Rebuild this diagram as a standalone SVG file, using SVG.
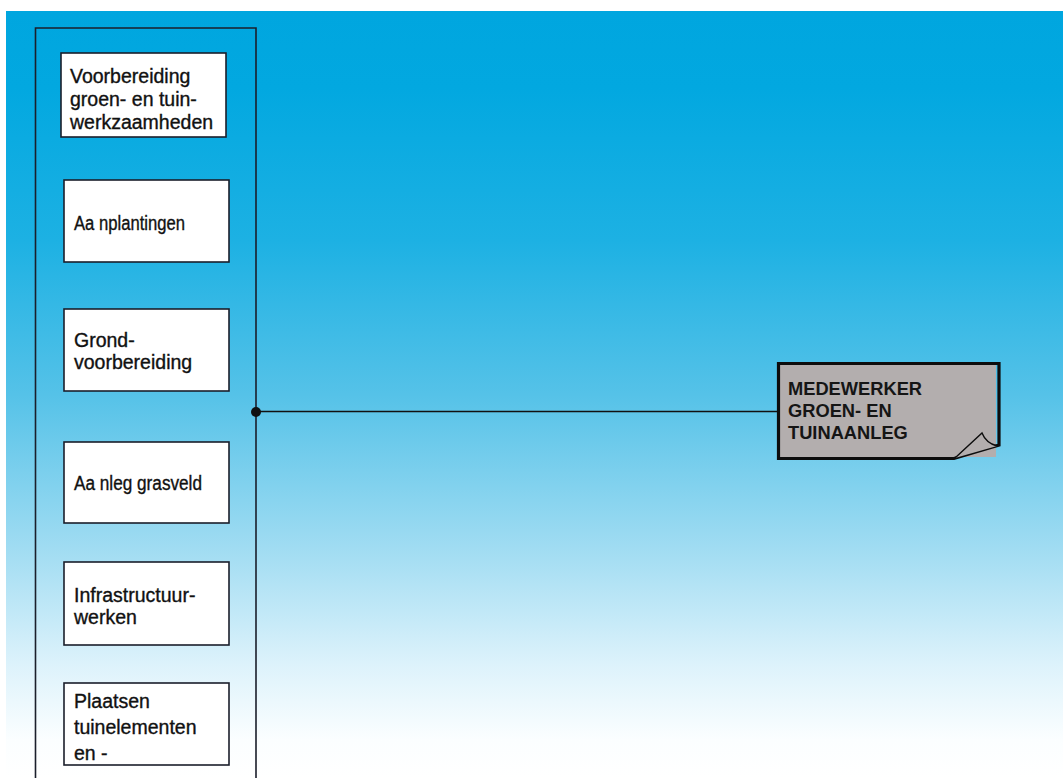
<svg xmlns="http://www.w3.org/2000/svg" width="1063" height="778" viewBox="0 0 1063 778">
<defs>
<linearGradient id="bg" x1="0" y1="11" x2="0" y2="778" gradientUnits="userSpaceOnUse">
<stop offset="0" stop-color="#00a6df"/>
<stop offset="0.1" stop-color="#02a8e0"/>
<stop offset="0.3" stop-color="#1db1e3"/>
<stop offset="0.5" stop-color="#55c2e8"/>
<stop offset="0.7" stop-color="#a0dcf2"/>
<stop offset="0.85" stop-color="#dcf2fb"/>
<stop offset="0.95" stop-color="#fbfeff"/>
<stop offset="1" stop-color="#ffffff"/>
</linearGradient>
<style>
.box{fill:#ffffff;stroke:#1b1f2b;stroke-width:1.6}
.lbl{font-family:"Liberation Sans",Arial,sans-serif;font-size:19.5px;fill:#111111;stroke:#111111;stroke-width:0.35}
.conn{stroke:#111111;stroke-width:1.4;fill:none}
.big{font-family:"Liberation Sans",Arial,sans-serif;font-size:18.3px;font-weight:bold;fill:#151515}
</style>
</defs>
<rect x="0" y="0" width="1063" height="778" fill="#ffffff"/>
<rect x="6" y="11" width="1057" height="767" fill="url(#bg)"/>

<g id="panel">
<path d="M35.5,778 V28 H256 V778" fill="none" stroke="#1b1f2b" stroke-width="1.6"/>
</g>

<g id="connectors">
<line class="conn" x1="256" y1="411.5" x2="778" y2="411.5"/>
<circle cx="256" cy="412" r="5" fill="#111111"/>
</g>

<g id="n1">
<rect class="box" x="61" y="53" width="165" height="84"/>
<text class="lbl" x="70" y="83">Voorbereiding</text>
<text class="lbl" x="70" y="106">groen- en tuin-</text>
<text class="lbl" x="70" y="129">werkzaamheden</text>
</g>
<g id="n2">
<rect class="box" x="64" y="180" width="165" height="82"/>
<text class="lbl" x="74" y="230" textLength="111" lengthAdjust="spacingAndGlyphs">Aa nplantingen</text>
</g>
<g id="n3">
<rect class="box" x="64" y="309" width="165" height="82"/>
<text class="lbl" x="74" y="347">Grond-</text>
<text class="lbl" x="74" y="369">voorbereiding</text>
</g>
<g id="n4">
<rect class="box" x="64" y="442" width="165" height="81"/>
<text class="lbl" x="74" y="490" textLength="128" lengthAdjust="spacingAndGlyphs">Aa nleg grasveld</text>
</g>
<g id="n5">
<rect class="box" x="64" y="562" width="165" height="83"/>
<text class="lbl" x="74" y="602">Infrastructuur-</text>
<text class="lbl" x="74" y="624">werken</text>
</g>
<g id="n6">
<rect class="box" x="64" y="683" width="165" height="82"/>
<text class="lbl" x="74" y="708">Plaatsen</text>
<text class="lbl" x="74" y="734">tuinelementen</text>
<text class="lbl" x="74" y="760">en -</text>
</g>

<g id="n7">
<rect x="779" y="365" width="217" height="92" fill="#b3aeae"/>
<path d="M778.5,458.5 V363.5 H999 V445 L954,458.5 Z" fill="none" stroke="#0d0d0d" stroke-width="3.2" stroke-linejoin="miter"/>
<path d="M955,458 L982,433 Q986,443 997,446" fill="#b3aeae" stroke="#0d0d0d" stroke-width="1.4"/>
<text class="big" x="788" y="395">MEDEWERKER</text>
<text class="big" x="788" y="417">GROEN- EN</text>
<text class="big" x="788" y="439">TUINAANLEG</text>
</g>
</svg>
